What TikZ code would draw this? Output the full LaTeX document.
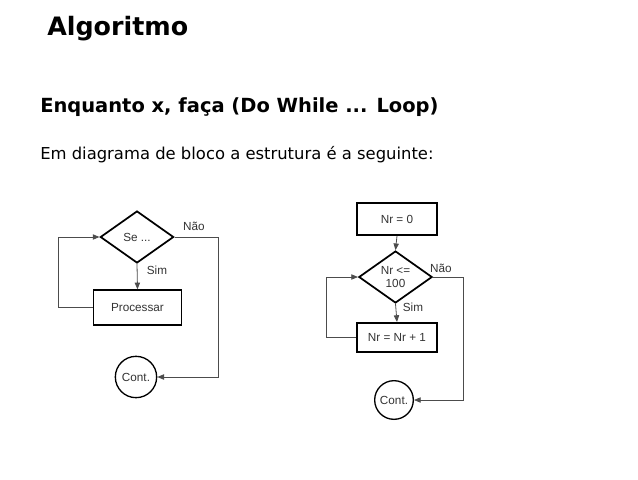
\documentclass[tikz,border=0pt]{standalone}
\usepackage{fontspec}
\setmainfont{DejaVu Sans}
\newfontfamily\arial{Liberation Sans}
\usetikzlibrary{shapes.geometric,arrows.meta}
\begin{document}
\begin{tikzpicture}[x=0.75pt,y=-0.75pt,
  line/.style={draw=black!70,line width=0.6pt},
  arr/.style={line,-{Triangle[length=5pt,width=4pt]}},
  dfont/.style={font=\arial\fontsize{8.8}{9.5}\selectfont,text=black!80},
  procbox/.style={draw,line width=1.3pt,minimum width=66pt,inner sep=0pt,dfont},
  decis/.style={draw,diamond,line width=1.3pt,aspect=1.65,inner sep=0pt,minimum width=55pt,minimum height=39pt,align=center,dfont},
  term/.style={draw,circle,line width=1pt,minimum size=31pt,inner sep=0pt,dfont},
  lbl/.style={dfont,inner sep=1pt}]
\useasboundingbox (0,0) rectangle (638,479);
\node[anchor=west,font=\bfseries\fontsize{19}{21}\selectfont,inner sep=0pt] (t) at (47,29) {Algoritmo};
\node[anchor=west,font=\bfseries\fontsize{14.6}{16}\selectfont,inner sep=0pt] (s) at (40,107) {Enquanto x, faça (Do While ... Loop)};
\node[anchor=west,font=\fontsize{12.3}{14}\selectfont,inner sep=0pt] (e) at (40,155) {Em diagrama de bloco a estrutura é a seguinte:};
% left
\node[decis] (d1) at (137,237) {Se ...};
\node[procbox,minimum height=26pt] (p1) at (137.5,307.5) {Processar};
\node[term] (c1) at (136,377) {Cont.};
\coordinate (l1a) at (58,307.5);
\coordinate (l1b) at (58,237);
\coordinate (r1a) at (218,237);
\coordinate (r1b) at (218,377);
\draw[arr] (d1.south) -- (p1.north);
\draw[arr] (p1.west) -- (l1a) -- (l1b) -- (d1.west);
\draw[arr] (d1.east) -- (r1a) -- (r1b) -- (c1.east);
\node[lbl] (n1) at (194,226) {Não};
\node[lbl] (si1) at (157,270) {Sim};
% right
\node[procbox,minimum width=60pt,minimum height=24pt] (b0) at (397,219) {Nr = 0};
\node[decis] (d2) at (395.5,277) {Nr <=\\100};
\node[procbox,minimum width=60pt,minimum height=22pt] (b1) at (397,337.5) {Nr = Nr + 1};
\node[term,minimum size=29pt] (c2) at (394,400) {Cont.};
\coordinate (l2a) at (326,337.5);
\coordinate (l2b) at (326,277);
\coordinate (r2a) at (463,277);
\coordinate (r2b) at (463,400);
\draw[arr] (b0.south) -- (d2.north);
\draw[arr] (d2.south) -- (b1.north);
\draw[arr] (b1.west) -- (l2a) -- (l2b) -- (d2.west);
\draw[arr] (d2.east) -- (r2a) -- (r2b) -- (c2.east);
\node[lbl] (n2) at (441,268) {Não};
\node[lbl] (si2) at (413,307) {Sim};
\end{tikzpicture}
\end{document}
